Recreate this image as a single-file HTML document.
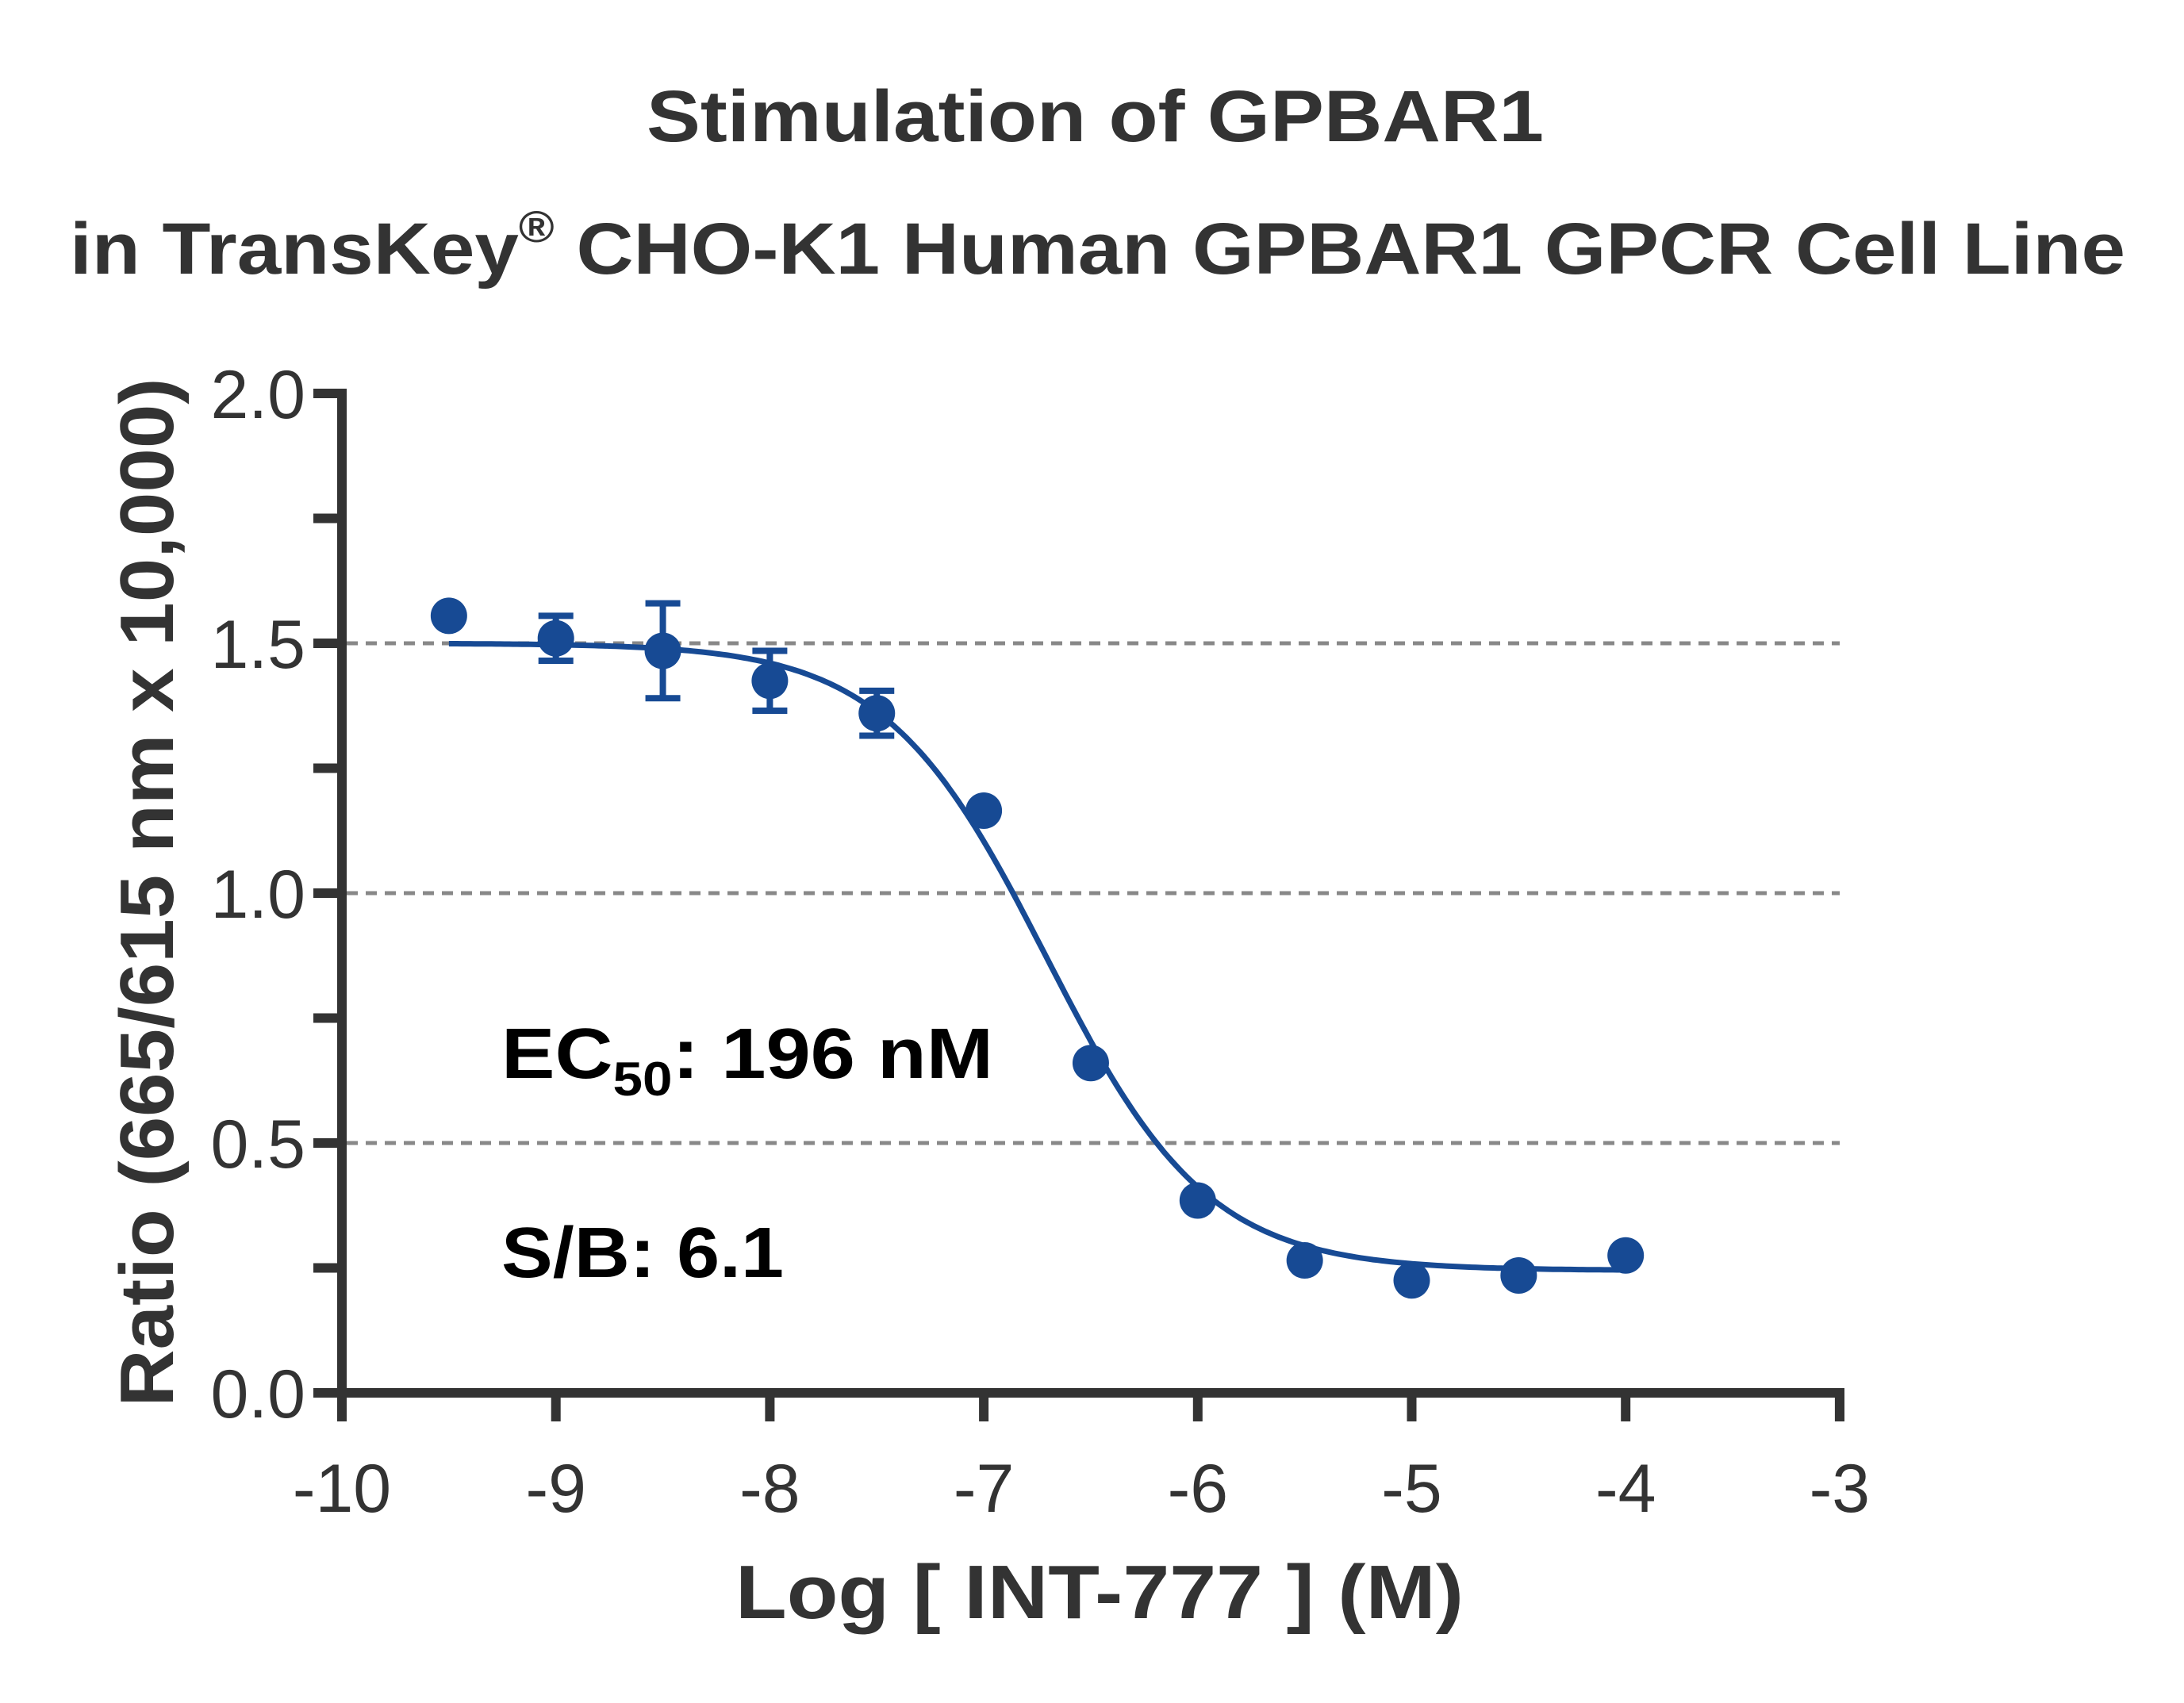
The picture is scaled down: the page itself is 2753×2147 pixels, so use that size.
<!DOCTYPE html>
<html><head><meta charset="utf-8"><style>
html,body{margin:0;padding:0;background:#fff}
svg{display:block}
text{font-family:"Liberation Sans",Arial,sans-serif}
</style></head><body>
<svg id="s" width="2753" height="2147" viewBox="0 0 2753 2147" xmlns="http://www.w3.org/2000/svg">
<rect width="2753" height="2147" fill="#fff"/>
<text x="815" y="178" font-size="92" font-weight="bold" fill="#333" textLength="1131" lengthAdjust="spacingAndGlyphs">Stimulation of  GPBAR1</text>
<text x="88" y="345" font-size="92" font-weight="bold" fill="#333" textLength="2591" lengthAdjust="spacingAndGlyphs">in TransKey<tspan font-size="56" dy="-40">®</tspan><tspan dy="40"> CHO-K1 Human GPBAR1 GPCR Cell Line</tspan></text>
<g stroke="#888" stroke-width="5" stroke-dasharray="14,10">
<line x1="437" y1="1441" x2="2319" y2="1441"/>
<line x1="437" y1="1126" x2="2319" y2="1126"/>
<line x1="437" y1="811" x2="2319" y2="811"/>
</g>
<g id="axes" stroke="#333" stroke-width="12" fill="none"></g>
<g id="lab" fill="#333" font-size="86"></g>
<path id="curve" fill="none" stroke="#174a94" stroke-width="7"/>
<g id="pts" fill="#174a94" stroke="#174a94"></g>
<text x="632" y="1359" font-size="90" font-weight="bold" fill="#000" textLength="620" lengthAdjust="spacingAndGlyphs">EC<tspan font-size="60" dy="22">50</tspan><tspan dy="-22">: 196 nM</tspan></text>
<text x="632" y="1610" font-size="90" font-weight="bold" fill="#000" textLength="356" lengthAdjust="spacingAndGlyphs">S/B: 6.1</text>
<text x="927" y="2040" font-size="96" font-weight="bold" fill="#333" textLength="918" lengthAdjust="spacingAndGlyphs">Log [ INT-777 ]  (M)</text>
<text transform="translate(218,1125) rotate(-90)" font-size="96" font-weight="bold" fill="#333" text-anchor="middle" textLength="1297" lengthAdjust="spacingAndGlyphs">Ratio (665/615 nm x 10,000)</text>
</svg>
<script>
var NS="http://www.w3.org/2000/svg";
function X(v){return 431+(v+10)*269.7;}
function Y(v){return 1756-v*630;}
function el(p,t,a,txt){var e=document.createElementNS(NS,t);for(var k in a)e.setAttribute(k,a[k]);if(txt!=null)e.textContent=txt;document.getElementById(p).appendChild(e);return e;}
el("axes","path",{d:"M431,490 L431,1762 M425,1756 L2325,1756 M2319,1750 L2319,1792"});
for(var i=0;i<=8;i++){var y=Y(i*0.25);el("axes","line",{x1:395,y1:y,x2:431,y2:y});}
for(var i=0;i<=7;i++){var x=X(-10+i);el("axes","line",{x1:x,y1:1756,x2:x,y2:1792});
el("lab","text",{x:x,y:1906,"text-anchor":"middle"},String(-10+i));}
["0.0","0.5","1.0","1.5","2.0"].forEach(function(s,i){el("lab","text",{x:385,y:Y(i*0.5)+31,"text-anchor":"end"},s);});
var d="";for(var v=-9.5;v<=-3.999;v+=0.02){var yv=0.245+(1.5-0.245)/(1+Math.pow(10,(v+6.708)*1.15));d+=(d?"L":"M")+X(v).toFixed(1)+","+Y(yv).toFixed(1);}
document.getElementById("curve").setAttribute("d",d);
var data=[[-9.5,1.555,0],[-9,1.51,0.045],[-8.5,1.485,0.095],[-8,1.425,0.06],[-7.5,1.36,0.045],[-7,1.165,0],[-6.5,0.66,0],[-6,0.385,0],[-5.5,0.265,0],[-5,0.225,0],[-4.5,0.235,0],[-4,0.275,0]];
data.forEach(function(p){var x=X(p[0]),y=Y(p[1]);
if(p[2]){var a=Y(p[1]+p[2]),b=Y(p[1]-p[2]);el("pts","path",{d:"M"+x+","+a+"L"+x+","+b+"M"+(x-22)+","+a+"L"+(x+22)+","+a+"M"+(x-22)+","+b+"L"+(x+22)+","+b,"stroke-width":8,fill:"none"});}
el("pts","circle",{cx:x,cy:y,r:23,stroke:"none"});});
</script>
</body></html>
